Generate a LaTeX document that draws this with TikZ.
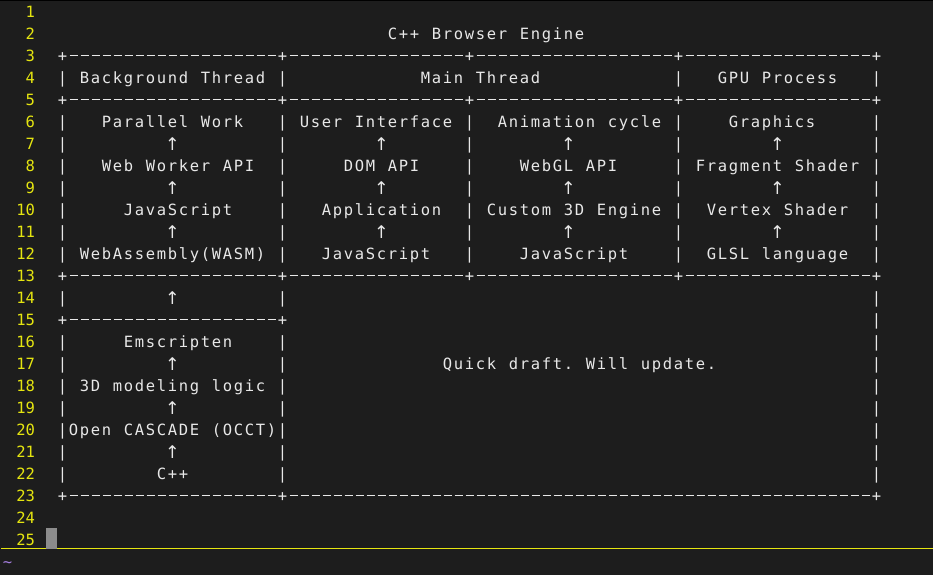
\documentclass[tikz,border=0pt]{standalone}
\usepackage{fontspec}
\usepackage{tikz}
\newfontfamily\termfont{DejaVu Sans Mono}
\newfontfamily\arrowfont{DejaVu Sans}
\definecolor{TermBg}{HTML}{1D1D1D}
\definecolor{TermText}{HTML}{E8E8E8}
\definecolor{LineNrYellow}{HTML}{E5E510}
\definecolor{TildeViolet}{HTML}{A67FE0}
\definecolor{CursorGray}{HTML}{8C8C8C}

% fixed terminal cell width
\newlength\termcw
\setlength\termcw{11pt}
\newcommand\termdash{\rule[5.2pt]{8pt}{1.4pt}}
\newcommand\termarrow{\raisebox{-0.6pt}{\arrowfont\fontsize{17.5}{22}\selectfont\symbol{"2191}}}
\begingroup
\catcode`\-=\active \catcode`\↑=\active
\gdef\termactive{\catcode`\-=\active \catcode`\↑=\active \let-\termdash \let↑\termarrow}
\endgroup
\ExplSyntaxOn
\NewDocumentCommand\termchars{m}{\tl_map_inline:nn{#1}{\makebox[\termcw][c]{##1}}}
\ExplSyntaxOff
% one buffer row, spaces kept as typed
\newcommand\termrow{\begingroup\catcode`\ =12\relax\termactive\termrowgo}
\newcommand\termrowgo[2]{%
  \node[termline] (row#1) at (46,{22*#1-4.35}) {\termchars{#2}};%
  \endgroup}

\tikzset{
  termline/.style={anchor=base west, inner sep=0pt, outer sep=0pt,
    font=\termfont\fontsize{15.5}{22}\selectfont, text=TermText},
  linenr/.style={anchor=base east, inner sep=0pt, outer sep=0pt,
    font=\termfont\fontsize{15.5}{22}\selectfont, text=LineNrYellow},
  eobfill/.style={anchor=base west, inner sep=0pt, outer sep=0pt,
    font=\termfont\fontsize{15.5}{22}\selectfont, text=TildeViolet},
  cursorblock/.style={fill=CursorGray, minimum width=11pt,
    minimum height=21pt, inner sep=0pt, outer sep=0pt}
}

\begin{document}
\begin{tikzpicture}[x=1pt, y=-1pt]
  \useasboundingbox (0,0) rectangle (933,575);
  \fill[TermBg] (0,0) rectangle (933,575);
  \fill[black] (0,0) rectangle (933,1.5);

  % line numbers
  \foreach \n in {1,...,25}
    \node[linenr] (nr\n) at (35,{22*\n-4.35}) {\n};

  % buffer
  \termrow{2}{                               C++ Browser Engine}
  \termrow{3}{ +-------------------+----------------+------------------+-----------------+}
  \termrow{4}{ | Background Thread |            Main Thread            |   GPU Process   |}
  \termrow{5}{ +-------------------+----------------+------------------+-----------------+}
  \termrow{6}{ |   Parallel Work   | User Interface |  Animation cycle |    Graphics     |}
  \termrow{7}{ |         ↑         |        ↑       |        ↑         |        ↑        |}
  \termrow{8}{ |   Web Worker API  |     DOM API    |    WebGL API     | Fragment Shader |}
  \termrow{9}{ |         ↑         |        ↑       |        ↑         |        ↑        |}
  \termrow{10}{ |     JavaScript    |   Application  | Custom 3D Engine |  Vertex Shader  |}
  \termrow{11}{ |         ↑         |        ↑       |        ↑         |        ↑        |}
  \termrow{12}{ | WebAssembly(WASM) |   JavaScript   |    JavaScript    |  GLSL language  |}
  \termrow{13}{ +-------------------+----------------+------------------+-----------------+}
  \termrow{14}{ |         ↑         |                                                     |}
  \termrow{15}{ +-------------------+                                                     |}
  \termrow{16}{ |     Emscripten    |                                                     |}
  \termrow{17}{ |         ↑         |              Quick draft. Will update.              |}
  \termrow{18}{ | 3D modeling logic |                                                     |}
  \termrow{19}{ |         ↑         |                                                     |}
  \termrow{20}{ |Open CASCADE (OCCT)|                                                     |}
  \termrow{21}{ |         ↑         |                                                     |}
  \termrow{22}{ |        C++        |                                                     |}
  \termrow{23}{ +-------------------+-----------------------------------------------------+}

  % end of buffer
  \node[eobfill] (eob) at (2,{22*26-4.35}) {\makebox[\termcw][c]{\string~}};
  \draw[LineNrYellow, line width=1.2pt] (1,548.3) -- (933,548.3);
  \node[cursorblock] (cursor) at (51.5,538.8) {};
\end{tikzpicture}
\end{document}
